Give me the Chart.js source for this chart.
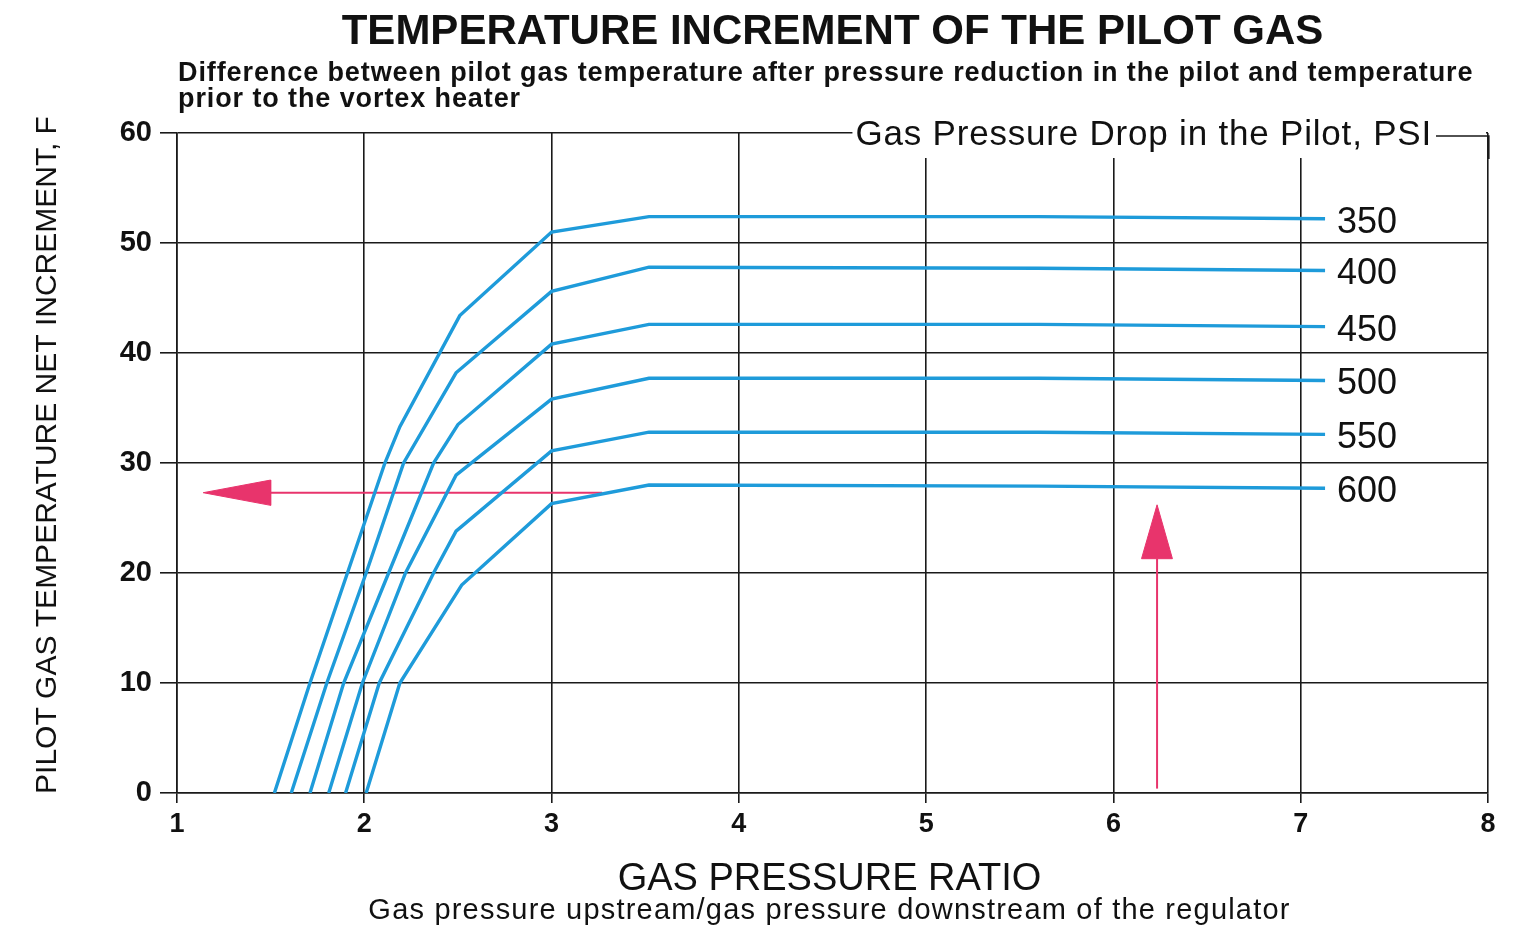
<!DOCTYPE html>
<html>
<head>
<meta charset="utf-8">
<script src="https://cdn.jsdelivr.net/npm/chart.js@4.4.1/dist/chart.umd.min.js"></script>
<style>
    html, body { margin: 0; padding: 0; background: #fff; }
    #wrap { width: 1529px; height: 925px; }
</style>
</head>
<body>
<div id="wrap"><canvas id="chart"></canvas></div>
<script>
// gas pressure drop in the pilot, PSI (one curve each)
const pressureDrops = ["350", "400", "450", "500", "550", "600"]

// gas pressure ratio (x) and temperature increment, F (y)
const ratio350 = [1.52, 1.71, 1.91, 2.11, 2.19, 2.51, 3.0, 3.52, 5.6, 7.13]
const temp350 = [0, 10, 20, 30, 33.3, 43.4, 51.0, 52.4, 52.4, 52.2]
const ratio400 = [1.61, 1.80, 2.01, 2.21, 2.49, 3.0, 3.52, 5.6, 7.13]
const temp400 = [0, 10, 20, 30, 38.2, 45.6, 47.8, 47.7, 47.5]
const ratio450 = [1.71, 1.89, 2.13, 2.37, 2.50, 3.0, 3.52, 5.6, 7.13]
const temp450 = [0, 10, 20, 30, 33.5, 40.8, 42.6, 42.6, 42.4]
const ratio500 = [1.81, 1.99, 2.22, 2.49, 3.0, 3.52, 5.6, 7.13]
const temp500 = [0, 10, 20, 28.9, 35.8, 37.7, 37.7, 37.5]
const ratio550 = [1.90, 2.08, 2.37, 2.49, 3.0, 3.52, 5.6, 7.13]
const temp550 = [0, 10, 20, 23.8, 31.1, 32.8, 32.8, 32.6]
const ratio600 = [2.01, 2.19, 2.52, 3.0, 3.52, 5.6, 7.13]
const temp600 = [0, 10, 18.9, 26.3, 28.0, 27.9, 27.7]

// example reading: up from ratio 6.23, then left to the temperature axis
const arrowLeftX = [3.27, 1.5]
const arrowLeftY = [27.3, 27.3]
const headLeftX = [1.14, 1.5, 1.5, 1.14]
const headLeftY = [27.3, 28.45, 26.15, 27.3]
const arrowUpX = [6.233, 6.233]
const arrowUpY = [0.4, 21.3]
const headUpX = [6.233, 6.15, 6.315, 6.233]
const headUpY = [26.2, 21.3, 21.3, 26.2]

// axis ticks
const ratioTicks = [1, 2, 3, 4, 5, 6, 7, 8]
const tempTicks = [0, 10, 20, 30, 40, 50, 60]

const FONT = '"Liberation Sans", Arial, Helvetica, sans-serif'
const BLUE = "#1e9bda"
const RED = "#e8346c"
const INK = "#1a1a1a"

let toPoints = (xs, ys) => xs.map((x, i) => ({ x: x, y: ys[i] }))

let curves = [
    [ratio350, temp350], [ratio400, temp400], [ratio450, temp450],
    [ratio500, temp500], [ratio550, temp550], [ratio600, temp600],
]

let datasets = curves.map((c, i) => ({
    label: pressureDrops[i],
    endLabel: pressureDrops[i],
    data: toPoints(c[0], c[1]),
    showLine: true,
    borderColor: BLUE,
    borderWidth: 3.4,
    pointRadius: 0,
    tension: 0,
    fill: false,
}))

let redLine = (xs, ys) => ({
    data: toPoints(xs, ys), showLine: true, borderColor: RED, borderWidth: 2,
    pointRadius: 0, fill: false,
})
let redHead = (xs, ys) => ({
    data: toPoints(xs, ys), showLine: true, borderColor: RED, borderWidth: 1,
    backgroundColor: RED, pointRadius: 0, fill: "shape",
})
datasets.push(redLine(arrowLeftX, arrowLeftY), redHead(headLeftX, headLeftY))
datasets.push(redLine(arrowUpX, arrowUpY), redHead(headUpX, headUpY))

const textPlugin = {
    id: "chartTexts",
    beforeDatasetsDraw(chart) {
        const { ctx, chartArea: a } = chart
        // caption sits in a gap of the top frame line
        ctx.save()
        ctx.font = `35px ${FONT}`
        ctx.letterSpacing = "0.8px"
        const caption = "Gas Pressure Drop in the Pilot, PSI"
        const right = a.right - 56
        const w = ctx.measureText(caption).width
        ctx.fillStyle = "#fff"
        ctx.fillRect(right - w - 3, a.top - 18, a.right - 2 - (right - w - 3), 43)
        ctx.fillStyle = "#111"
        ctx.textAlign = "right"
        ctx.textBaseline = "middle"
        ctx.fillText(caption, right, a.top + 2)
        ctx.strokeStyle = INK
        ctx.lineWidth = 1.6
        ctx.beginPath()
        ctx.moveTo(right + 4, a.top + 3)
        ctx.lineTo(a.right + 0.8, a.top + 3)
        ctx.lineTo(a.right + 0.8, a.top + 26)
        ctx.stroke()
        ctx.restore()
    },
    afterDatasetsDraw(chart) {
        const { ctx } = chart
        ctx.save()
        ctx.font = `36px ${FONT}`
        ctx.fillStyle = "#111"
        ctx.textAlign = "left"
        ctx.textBaseline = "middle"
        chart.data.datasets.forEach((ds, i) => {
            if (!ds.endLabel) return
            const pts = chart.getDatasetMeta(i).data
            const last = pts[pts.length - 1]
            ctx.fillText(ds.endLabel, last.x + 12, last.y + 4)
        })
        ctx.restore()
    },
    afterDraw(chart) {
        const { ctx, chartArea: a } = chart
        const cx = (a.left + a.right) / 2
        ctx.save()
        ctx.fillStyle = "#111"
        ctx.textBaseline = "alphabetic"

        ctx.textAlign = "center"
        ctx.font = `bold 42px ${FONT}`
        ctx.fillText("TEMPERATURE INCREMENT OF THE PILOT GAS", cx, 44)

        ctx.textAlign = "left"
        ctx.font = `bold 27px ${FONT}`
        ctx.letterSpacing = "0.9px"
        ctx.fillText("Difference between pilot gas temperature after pressure reduction in the pilot and temperature", a.left + 1, 81)
        ctx.fillText("prior to the vortex heater", a.left + 1, 107)

        ctx.textAlign = "center"
        ctx.letterSpacing = "0px"
        ctx.font = `38px ${FONT}`
        ctx.fillText("GAS PRESSURE RATIO", cx - 3, 890)
        ctx.font = `29px ${FONT}`
        ctx.letterSpacing = "1.2px"
        ctx.fillText("Gas pressure upstream/gas pressure downstream of the regulator", cx - 3, 919)

        ctx.letterSpacing = "0px"
        ctx.translate(48, 455)
        ctx.rotate(-Math.PI / 2)
        ctx.textBaseline = "middle"
        ctx.font = `30px ${FONT}`
        ctx.fillText("PILOT GAS TEMPERATURE NET INCREMENT, F", 0, 0)
        ctx.restore()
    },
}

window.addEventListener("load", () => {
    new Chart(document.getElementById("chart"), {
        type: "scatter",
        data: { datasets: datasets },
        options: {
            responsive: true,
            maintainAspectRatio: false,
            animation: false,
            devicePixelRatio: 1,
            layout: { padding: { top: 133, right: 41, left: 0, bottom: 0 } },
            plugins: {
                legend: { display: false },
                tooltip: { enabled: false },
            },
            scales: {
                x: {
                    type: "linear",
                    min: ratioTicks[0],
                    max: ratioTicks[ratioTicks.length - 1],
                    afterBuildTicks: (scale) => { scale.ticks = ratioTicks.map(v => ({ value: v })) },
                    afterFit: (scale) => { scale.height = 132 },
                    grid: { color: INK, lineWidth: 1.6, tickLength: 10, tickColor: INK },
                    border: { color: INK, width: 1.6 },
                    ticks: { color: "#111", font: { family: FONT, size: 27, weight: "bold" }, padding: 5 },
                },
                y: {
                    type: "linear",
                    min: tempTicks[0],
                    max: tempTicks[tempTicks.length - 1],
                    afterBuildTicks: (scale) => { scale.ticks = tempTicks.map(v => ({ value: v })) },
                    afterFit: (scale) => { scale.width = 177 },
                    grid: { color: INK, lineWidth: 1.6, tickLength: 17, tickColor: INK },
                    border: { color: INK, width: 1.6 },
                    ticks: { color: "#111", font: { family: FONT, size: 29, weight: "bold" }, padding: 8 },
                },
            },
        },
        plugins: [textPlugin],
    })
})
</script>
</body>
</html>
